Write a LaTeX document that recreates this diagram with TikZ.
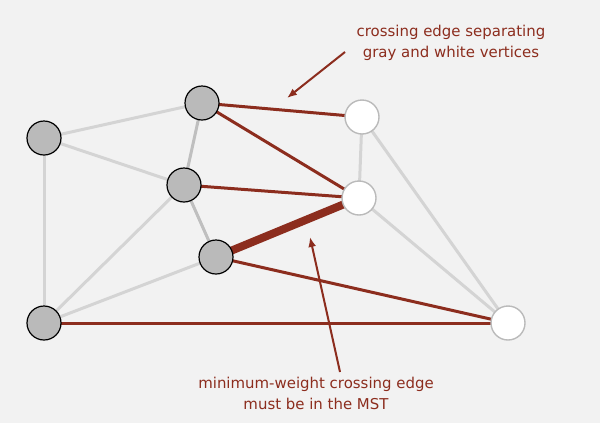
\documentclass[tikz,border=0pt]{standalone}
\usepackage{fontspec}
\setmainfont{DejaVu Sans}
\usetikzlibrary{arrows.meta,backgrounds}
\definecolor{mstred}{RGB}{140,45,30}
\definecolor{bgcol}{RGB}{242,242,242}
\begin{document}
\begin{tikzpicture}[x=1bp,y=-1bp,
  gv/.style={circle,draw=black,line width=1.2bp,fill=black!27,minimum size=34bp,inner sep=0pt},
  wv/.style={circle,draw=black!27,line width=1.4bp,fill=white,minimum size=34bp,inner sep=0pt},
  light/.style={draw=black!17,line width=3bp},
  cross/.style={draw=mstred,line width=3bp},
  lab/.style={font=\fontsize{15}{21}\selectfont,text=mstred,align=center}]
\useasboundingbox (0,0) rectangle (600,423);
% vertices
\node[gv] (a) at (44,138) {};
\node[gv] (b) at (202,103) {};
\node[gv] (c) at (184,185) {};
\node[gv] (d) at (216,257) {};
\node[gv] (e) at (44,323) {};
\node[wv] (f) at (362,117) {};
\node[wv] (g) at (359,198) {};
\node[wv] (h) at (508,323) {};
% edges behind the vertices
\begin{scope}[on background layer]
\fill[bgcol] (0,0) rectangle (600,423);
\foreach \u/\v in {a/b,a/c,a/e,c/e,d/e,f/g,f/h,g/h}{\draw[light] (\u.center)--(\v.center);}
\foreach \u/\v in {b/c,c/d}{\draw[light,draw=black!25] (\u.center)--(\v.center);}
\foreach \u/\v in {b/f,b/g,c/g,d/h,e/h}{\draw[cross] (\u.center)--(\v.center);}
\draw[cross,line width=8bp] (d.center)--(g.center);
\end{scope}
% labels
\node[lab] (top) at (451,43) {crossing edge separating\\gray and white vertices};
\node[lab] (bot) at (316,393) {minimum-weight crossing edge\\must be in the MST};
\coordinate (ts) at (345,52);
\coordinate (tt) at (287,98);
\coordinate (bs) at (340,372);
\coordinate (bt) at (310,237);
\draw[-{Latex[length=3.5mm,width=2.8mm]},mstred,line width=2bp] (ts)--(tt);
\draw[-{Latex[length=3.5mm,width=2.8mm]},mstred,line width=2bp] (bs)--(bt);
\end{tikzpicture}
\end{document}
